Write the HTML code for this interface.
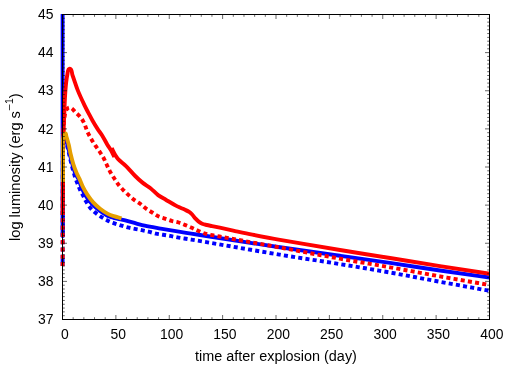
<!DOCTYPE html>
<html><head><meta charset="utf-8"><style>
html,body{margin:0;padding:0;background:#fff;}
svg{display:block;will-change:transform;}
text{font-family:"Liberation Sans",sans-serif;font-size:14px;fill:#000;}
</style></head><body>
<svg width="523" height="366" viewBox="0 0 523 366">
<rect width="523" height="366" fill="#fff"/>
<defs><clipPath id="c"><rect x="60" y="14" width="429.8" height="306"/></clipPath></defs>
<g clip-path="url(#c)" fill="none" stroke-linejoin="round" stroke-width="3.9">
<path d="M62.60,10.00 L62.60,236.00 L62.90,236.00 C62.90,210.67 62.90,185.33 62.90,160.00 C62.90,156.00 62.74,152.00 62.90,148.00 C63.01,145.32 63.15,142.62 63.70,140.00 C63.96,138.74 64.21,135.83 65.30,136.50 C66.91,137.49 66.40,140.11 66.86,141.94 C67.90,146.05 68.77,150.19 69.80,154.30 C70.59,157.45 71.40,160.58 72.30,163.70 C73.24,166.95 74.04,170.26 75.30,173.40 C76.19,175.63 77.75,177.54 78.73,179.73 C79.90,182.36 80.56,185.20 81.74,187.84 C83.01,190.69 84.37,193.51 86.04,196.15 C87.74,198.85 89.64,201.45 91.80,203.80 C93.98,206.18 96.42,208.35 99.00,210.30 C101.68,212.33 104.52,214.16 107.50,215.70 C109.38,216.67 111.46,217.23 113.50,217.80 C116.13,218.53 118.83,219.01 121.50,219.60 C122.73,219.87 123.98,220.08 125.20,220.40 C129.02,221.41 132.79,222.56 136.60,223.60 C139.29,224.33 141.97,225.13 144.70,225.70 C149.97,226.80 155.29,227.66 160.60,228.60 C165.69,229.50 170.79,230.37 175.90,231.20 C180.99,232.03 186.10,232.80 191.20,233.60 C197.30,234.56 203.40,235.56 209.50,236.50 C233.00,240.12 256.48,243.82 280.00,247.30 C299.98,250.26 320.00,252.96 340.00,255.80 C356.67,258.16 373.35,260.45 390.00,262.90 C406.68,265.35 423.32,268.05 440.00,270.50 C456.49,272.92 473.00,275.17 489.50,277.50" stroke="#0000ff"/>
<path d="M62.6,258.9V262.1" stroke="#0000ff"/>
<path d="M62.60,266.00 L62.80,170.00" stroke="#0000ff" stroke-dasharray="4.06 3.21"/>
<path d="M489.50,290.80 C473.00,287.80 456.49,284.83 440.00,281.80 C423.33,278.73 406.69,275.45 390.00,272.50 C373.36,269.55 356.68,266.80 340.00,264.10 C320.02,260.87 299.97,257.99 280.00,254.70 C253.04,250.26 226.14,245.48 199.20,240.90 C196.54,240.45 193.87,240.03 191.20,239.60 C188.90,239.23 186.60,238.87 184.30,238.50 C182.00,238.13 179.69,237.82 177.40,237.40 C174.96,236.95 172.54,236.35 170.10,235.90 C167.71,235.45 165.30,235.09 162.90,234.70 C160.60,234.33 158.28,234.08 156.00,233.60 C153.41,233.05 150.88,232.21 148.30,231.60 C146.11,231.08 143.91,230.64 141.70,230.20 C139.40,229.74 137.10,229.36 134.80,228.90 C132.43,228.43 130.05,227.98 127.70,227.40 C125.31,226.81 122.95,226.12 120.60,225.40 C118.28,224.69 115.96,223.97 113.70,223.10 C111.39,222.21 109.10,221.25 106.88,220.15 C104.78,219.10 102.72,217.94 100.74,216.65 C98.73,215.33 96.77,213.90 94.94,212.32 C93.10,210.73 91.31,209.06 89.78,207.18 C88.31,205.37 87.16,203.32 86.00,201.30 C84.93,199.45 84.09,197.49 83.10,195.60 C82.19,193.86 81.12,192.19 80.30,190.40 C79.18,187.96 78.24,185.44 77.27,182.94 C76.44,180.83 75.59,178.73 74.91,176.56 C73.83,173.17 72.90,169.74 72.00,166.30 C71.13,162.98 70.38,159.64 69.60,156.30 C68.93,153.42 68.44,150.50 67.64,147.65 C67.00,145.39 67.02,142.60 65.30,141.00 C64.47,140.23 63.96,142.90 63.70,144.00 C63.15,146.28 62.98,148.65 62.90,151.00 C62.68,157.33 62.83,163.67 62.80,170.00" stroke="#0000ff" stroke-dasharray="4.06 3.21" stroke-dashoffset="6.22"/>
<path d="M62.60,215.00 C62.73,204.00 62.93,193.00 63.00,182.00 C63.07,171.33 62.81,160.66 63.00,150.00 C63.21,138.66 63.74,127.33 64.20,116.00 C64.54,107.53 64.76,99.05 65.40,90.60 C65.80,85.31 66.25,80.00 67.30,74.80 C67.73,72.68 67.64,68.63 69.80,68.80 C72.11,68.98 71.69,73.03 72.50,75.20 C74.39,80.30 75.88,85.55 77.90,90.60 C79.98,95.79 82.42,100.84 84.80,105.90 C85.82,108.07 86.98,110.18 88.10,112.30 C89.58,115.11 91.02,117.94 92.60,120.70 C94.23,123.54 95.92,126.35 97.70,129.10 C99.05,131.19 100.69,133.09 102.00,135.20 C103.86,138.19 105.40,141.37 107.20,144.40 C108.40,146.41 109.85,148.26 111.00,150.30 C112.22,152.47 113.20,154.77 114.30,157.00 L111.80,148.20 C112.13,148.90 112.45,149.61 112.80,150.30 C113.65,151.98 114.44,153.68 115.40,155.30 C116.15,156.56 116.88,157.85 117.90,158.90 C120.04,161.10 122.53,162.94 124.80,165.00 C125.73,165.84 126.64,166.69 127.50,167.60 C130.11,170.36 132.51,173.31 135.20,176.00 C137.62,178.42 140.12,180.77 142.80,182.90 C145.24,184.84 148.06,186.26 150.50,188.20 C153.18,190.33 155.36,193.04 158.10,195.10 C160.49,196.90 163.22,198.18 165.80,199.70 C169.16,201.68 172.49,203.70 175.90,205.60 C177.23,206.34 178.62,206.96 180.00,207.60 C181.52,208.30 183.09,208.89 184.60,209.60 C186.15,210.33 187.76,210.97 189.20,211.90 C190.31,212.62 191.29,213.54 192.20,214.50 C193.34,215.71 194.19,217.16 195.30,218.40 C196.26,219.47 197.26,220.52 198.40,221.40 C199.57,222.30 200.84,223.12 202.20,223.70 C203.66,224.33 205.25,224.62 206.80,225.00 C208.55,225.43 210.33,225.73 212.10,226.10 C214.67,226.63 217.24,227.15 219.80,227.70 C224.27,228.65 228.73,229.65 233.20,230.60 C239.60,231.95 245.99,233.34 252.40,234.60 C261.59,236.41 270.78,238.18 280.00,239.80 C299.98,243.31 319.99,246.69 340.00,250.00 C356.65,252.76 373.34,255.32 390.00,258.00 C406.67,260.68 423.32,263.45 440.00,266.10 C456.49,268.72 473.00,271.23 489.50,273.80" stroke="#ff0000" stroke-linejoin="miter" stroke-miterlimit="6"/>
<path d="M62.60,266.00 C62.67,249.00 62.74,232.00 62.80,215.00 C62.87,193.33 62.89,171.67 63.00,150.00 C63.03,144.67 63.13,139.33 63.20,134.00" stroke="#ff0000" stroke-dasharray="4.06 3.21"/>
<path d="M489.50,285.00 C473.00,282.13 456.49,279.33 440.00,276.40 C423.32,273.43 406.68,270.25 390.00,267.30 C373.35,264.35 356.64,261.70 340.00,258.70 C319.98,255.10 300.01,251.19 280.00,247.50 C259.84,243.79 239.66,240.18 219.50,236.50 C217.20,236.08 214.89,235.67 212.60,235.20 C210.13,234.70 207.62,234.32 205.20,233.60 C202.90,232.92 200.70,231.96 198.50,231.00 C196.26,230.02 194.13,228.80 191.90,227.80 C189.76,226.84 187.58,225.97 185.40,225.10 C183.15,224.20 180.92,223.21 178.60,222.50 C176.31,221.80 173.90,221.56 171.60,220.90 C169.33,220.25 167.13,219.37 164.90,218.60 C162.70,217.84 160.40,217.31 158.30,216.30 C156.14,215.26 154.23,213.77 152.20,212.50 C150.17,211.23 148.04,210.11 146.10,208.70 C144.03,207.20 142.25,205.32 140.20,203.80 C138.38,202.45 136.32,201.45 134.50,200.10 C132.62,198.71 130.85,197.16 129.10,195.60 C127.25,193.96 125.44,192.26 123.70,190.50 C122.11,188.89 120.50,187.28 119.10,185.50 C117.43,183.37 115.98,181.07 114.50,178.80 C112.91,176.37 111.29,173.95 109.90,171.40 C108.59,169.01 107.56,166.47 106.40,164.00 C105.49,162.07 104.72,160.07 103.70,158.20 C102.58,156.13 101.29,154.16 100.00,152.20 C98.59,150.06 97.02,148.03 95.60,145.90 C94.29,143.93 92.99,141.95 91.80,139.90 C90.29,137.31 88.75,134.72 87.50,132.00 C86.31,129.41 85.69,126.59 84.50,124.00 C83.51,121.84 82.44,119.69 81.00,117.80 C79.51,115.85 77.60,114.27 75.80,112.60 C73.93,110.86 72.48,108.22 70.00,107.60 C68.51,107.23 66.89,108.83 66.20,110.20 C64.86,112.88 64.68,116.02 64.30,119.00 C63.67,123.97 63.57,129.00 63.20,134.00" stroke="#ff0000" stroke-dasharray="4.06 3.21" stroke-dashoffset="3.93"/>
<path d="M63.00,182.00 C63.00,171.33 63.00,160.67 63.00,150.00 C63.00,146.50 62.53,142.97 63.00,139.50 C63.28,137.42 63.54,134.88 65.20,133.60 C66.11,132.90 66.13,135.71 66.50,136.80 C66.93,138.05 67.24,139.33 67.60,140.60 C68.01,142.06 68.46,143.52 68.80,145.00 C69.50,148.09 69.97,151.22 70.70,154.30 C71.48,157.59 72.29,160.87 73.30,164.10 C74.19,166.95 75.25,169.75 76.40,172.50 C77.32,174.69 78.52,176.74 79.50,178.90 C80.69,181.54 81.60,184.31 82.90,186.90 C84.28,189.65 85.80,192.34 87.50,194.90 C89.24,197.52 91.08,200.08 93.20,202.40 C95.30,204.70 97.65,206.78 100.10,208.70 C102.56,210.63 105.16,212.39 107.90,213.90 C109.72,214.90 111.72,215.56 113.70,216.20 C116.26,217.03 118.90,217.60 121.50,218.30" stroke="#e69f00"/>
</g>
<path d="M62.50,319.5v-4.5M62.50,14.5v4.5M73.17,319.5v-2.3M73.17,14.5v2.3M83.85,319.5v-2.3M83.85,14.5v2.3M94.53,319.5v-2.3M94.53,14.5v2.3M105.20,319.5v-2.3M105.20,14.5v2.3M115.88,319.5v-4.5M115.88,14.5v4.5M126.55,319.5v-2.3M126.55,14.5v2.3M137.22,319.5v-2.3M137.22,14.5v2.3M147.90,319.5v-2.3M147.90,14.5v2.3M158.57,319.5v-2.3M158.57,14.5v2.3M169.25,319.5v-4.5M169.25,14.5v4.5M179.93,319.5v-2.3M179.93,14.5v2.3M190.60,319.5v-2.3M190.60,14.5v2.3M201.28,319.5v-2.3M201.28,14.5v2.3M211.95,319.5v-2.3M211.95,14.5v2.3M222.62,319.5v-4.5M222.62,14.5v4.5M233.30,319.5v-2.3M233.30,14.5v2.3M243.97,319.5v-2.3M243.97,14.5v2.3M254.65,319.5v-2.3M254.65,14.5v2.3M265.32,319.5v-2.3M265.32,14.5v2.3M276.00,319.5v-4.5M276.00,14.5v4.5M286.68,319.5v-2.3M286.68,14.5v2.3M297.35,319.5v-2.3M297.35,14.5v2.3M308.02,319.5v-2.3M308.02,14.5v2.3M318.70,319.5v-2.3M318.70,14.5v2.3M329.38,319.5v-4.5M329.38,14.5v4.5M340.05,319.5v-2.3M340.05,14.5v2.3M350.73,319.5v-2.3M350.73,14.5v2.3M361.40,319.5v-2.3M361.40,14.5v2.3M372.07,319.5v-2.3M372.07,14.5v2.3M382.75,319.5v-4.5M382.75,14.5v4.5M393.43,319.5v-2.3M393.43,14.5v2.3M404.10,319.5v-2.3M404.10,14.5v2.3M414.77,319.5v-2.3M414.77,14.5v2.3M425.45,319.5v-2.3M425.45,14.5v2.3M436.12,319.5v-4.5M436.12,14.5v4.5M446.80,319.5v-2.3M446.80,14.5v2.3M457.48,319.5v-2.3M457.48,14.5v2.3M468.15,319.5v-2.3M468.15,14.5v2.3M478.82,319.5v-2.3M478.82,14.5v2.3M489.50,319.5v-4.5M489.50,14.5v4.5M62.5,14.50h4.5M489.5,14.50h-4.5M62.5,18.31h2.3M489.5,18.31h-2.3M62.5,22.12h2.3M489.5,22.12h-2.3M62.5,25.94h2.3M489.5,25.94h-2.3M62.5,29.75h2.3M489.5,29.75h-2.3M62.5,33.56h2.3M489.5,33.56h-2.3M62.5,37.38h2.3M489.5,37.38h-2.3M62.5,41.19h2.3M489.5,41.19h-2.3M62.5,45.00h2.3M489.5,45.00h-2.3M62.5,48.81h2.3M489.5,48.81h-2.3M62.5,52.62h4.5M489.5,52.62h-4.5M62.5,56.44h2.3M489.5,56.44h-2.3M62.5,60.25h2.3M489.5,60.25h-2.3M62.5,64.06h2.3M489.5,64.06h-2.3M62.5,67.88h2.3M489.5,67.88h-2.3M62.5,71.69h2.3M489.5,71.69h-2.3M62.5,75.50h2.3M489.5,75.50h-2.3M62.5,79.31h2.3M489.5,79.31h-2.3M62.5,83.12h2.3M489.5,83.12h-2.3M62.5,86.94h2.3M489.5,86.94h-2.3M62.5,90.75h4.5M489.5,90.75h-4.5M62.5,94.56h2.3M489.5,94.56h-2.3M62.5,98.38h2.3M489.5,98.38h-2.3M62.5,102.19h2.3M489.5,102.19h-2.3M62.5,106.00h2.3M489.5,106.00h-2.3M62.5,109.81h2.3M489.5,109.81h-2.3M62.5,113.62h2.3M489.5,113.62h-2.3M62.5,117.44h2.3M489.5,117.44h-2.3M62.5,121.25h2.3M489.5,121.25h-2.3M62.5,125.06h2.3M489.5,125.06h-2.3M62.5,128.88h4.5M489.5,128.88h-4.5M62.5,132.69h2.3M489.5,132.69h-2.3M62.5,136.50h2.3M489.5,136.50h-2.3M62.5,140.31h2.3M489.5,140.31h-2.3M62.5,144.12h2.3M489.5,144.12h-2.3M62.5,147.94h2.3M489.5,147.94h-2.3M62.5,151.75h2.3M489.5,151.75h-2.3M62.5,155.56h2.3M489.5,155.56h-2.3M62.5,159.38h2.3M489.5,159.38h-2.3M62.5,163.19h2.3M489.5,163.19h-2.3M62.5,167.00h4.5M489.5,167.00h-4.5M62.5,170.81h2.3M489.5,170.81h-2.3M62.5,174.62h2.3M489.5,174.62h-2.3M62.5,178.44h2.3M489.5,178.44h-2.3M62.5,182.25h2.3M489.5,182.25h-2.3M62.5,186.06h2.3M489.5,186.06h-2.3M62.5,189.88h2.3M489.5,189.88h-2.3M62.5,193.69h2.3M489.5,193.69h-2.3M62.5,197.50h2.3M489.5,197.50h-2.3M62.5,201.31h2.3M489.5,201.31h-2.3M62.5,205.12h4.5M489.5,205.12h-4.5M62.5,208.94h2.3M489.5,208.94h-2.3M62.5,212.75h2.3M489.5,212.75h-2.3M62.5,216.56h2.3M489.5,216.56h-2.3M62.5,220.38h2.3M489.5,220.38h-2.3M62.5,224.19h2.3M489.5,224.19h-2.3M62.5,228.00h2.3M489.5,228.00h-2.3M62.5,231.81h2.3M489.5,231.81h-2.3M62.5,235.62h2.3M489.5,235.62h-2.3M62.5,239.44h2.3M489.5,239.44h-2.3M62.5,243.25h4.5M489.5,243.25h-4.5M62.5,247.06h2.3M489.5,247.06h-2.3M62.5,250.88h2.3M489.5,250.88h-2.3M62.5,254.69h2.3M489.5,254.69h-2.3M62.5,258.50h2.3M489.5,258.50h-2.3M62.5,262.31h2.3M489.5,262.31h-2.3M62.5,266.12h2.3M489.5,266.12h-2.3M62.5,269.94h2.3M489.5,269.94h-2.3M62.5,273.75h2.3M489.5,273.75h-2.3M62.5,277.56h2.3M489.5,277.56h-2.3M62.5,281.38h4.5M489.5,281.38h-4.5M62.5,285.19h2.3M489.5,285.19h-2.3M62.5,289.00h2.3M489.5,289.00h-2.3M62.5,292.81h2.3M489.5,292.81h-2.3M62.5,296.62h2.3M489.5,296.62h-2.3M62.5,300.44h2.3M489.5,300.44h-2.3M62.5,304.25h2.3M489.5,304.25h-2.3M62.5,308.06h2.3M489.5,308.06h-2.3M62.5,311.88h2.3M489.5,311.88h-2.3M62.5,315.69h2.3M489.5,315.69h-2.3M62.5,319.50h4.5M489.5,319.50h-4.5" stroke="#000" stroke-width="0.6" fill="none"/>
<rect x="62.5" y="14.5" width="427.0" height="305.0" fill="none" stroke="#000" stroke-width="1"/>
<text font-size="14.6" transform="translate(64.8,338.8) scale(0.995,1)" text-anchor="middle">0</text><text font-size="14.6" transform="translate(118.2,338.8) scale(0.995,1)" text-anchor="middle">50</text><text font-size="14.6" transform="translate(171.6,338.8) scale(0.995,1)" text-anchor="middle">100</text><text font-size="14.6" transform="translate(224.9,338.8) scale(0.995,1)" text-anchor="middle">150</text><text font-size="14.6" transform="translate(278.3,338.8) scale(0.995,1)" text-anchor="middle">200</text><text font-size="14.6" transform="translate(331.7,338.8) scale(0.995,1)" text-anchor="middle">250</text><text font-size="14.6" transform="translate(385.1,338.8) scale(0.995,1)" text-anchor="middle">300</text><text font-size="14.6" transform="translate(438.4,338.8) scale(0.995,1)" text-anchor="middle">350</text><text font-size="14.6" transform="translate(491.8,338.8) scale(0.995,1)" text-anchor="middle">400</text>
<text font-size="14.6" transform="translate(53.4,324.1) scale(0.995,1)" text-anchor="end">37</text><text font-size="14.6" transform="translate(53.4,286.0) scale(0.995,1)" text-anchor="end">38</text><text font-size="14.6" transform="translate(53.4,247.8) scale(0.995,1)" text-anchor="end">39</text><text font-size="14.6" transform="translate(53.4,209.7) scale(0.995,1)" text-anchor="end">40</text><text font-size="14.6" transform="translate(53.4,171.6) scale(0.995,1)" text-anchor="end">41</text><text font-size="14.6" transform="translate(53.4,133.5) scale(0.995,1)" text-anchor="end">42</text><text font-size="14.6" transform="translate(53.4,95.3) scale(0.995,1)" text-anchor="end">43</text><text font-size="14.6" transform="translate(53.4,57.2) scale(0.995,1)" text-anchor="end">44</text><text font-size="14.6" transform="translate(53.4,19.1) scale(0.995,1)" text-anchor="end">45</text>
<text font-size="14.3" transform="translate(276,361.0) scale(1.03,1)" text-anchor="middle">time after explosion (day)</text>
<text font-size="14.3" transform="translate(20,167.2) rotate(-90) scale(1.045,1)" text-anchor="middle">log luminosity (erg s<tspan dx="0.8" dy="-8" font-size="10">–</tspan><tspan dx="0.3" dy="1" font-size="10">1</tspan><tspan dy="7">)</tspan></text>
</svg>
</body></html>
